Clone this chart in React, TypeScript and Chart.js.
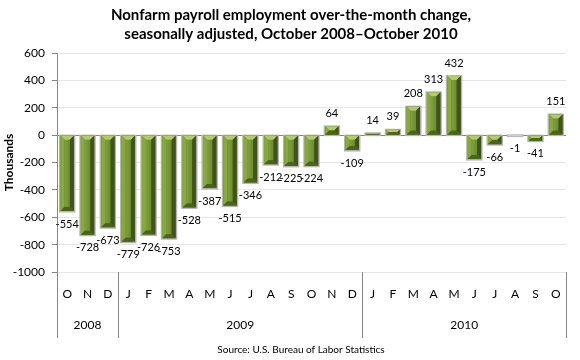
import React, { useEffect, useRef } from 'react';
import { Chart, registerables } from 'chart.js';

Chart.register(...registerables);

const months = ['O', 'N', 'D', 'J', 'F', 'M', 'A', 'M', 'J', 'J', 'A', 'S', 'O', 'N', 'D', 'J', 'F', 'M', 'A', 'M', 'J', 'J', 'A', 'S', 'O'];
const changes = [-554, -728, -673, -779, -726, -753, -528, -387, -515, -346, -212, -225, -224, 64, -109, 14, 39, 208, 313, 432, -175, -66, -1, -41, 151];
const years = ['2008', '2009', '2010'];
const yearSpans = [3, 12, 10];
const yMin = -1000;
const yMax = 600;
const yStep = 200;
const titleLines = ['Nonfarm payroll employment over-the-month change,', 'seasonally adjusted, October 2008\u2013October 2010'];
const yAxisTitle = 'Thousands';
const sourceText = 'Source: U.S. Bureau of Labor Statistics';

const FONT = 'Lato, "Liberation Sans", sans-serif';
const AXIS_GRAY = '#868686';

const bevelBars = {
  id: 'bevelBars',
  afterDatasetsDraw(chart: any) {
    const ctx = chart.ctx;
    const meta = chart.getDatasetMeta(0);
    ctx.save();
    meta.data.forEach((bar: any) => {
      const p = bar.getProps(['x', 'y', 'base', 'width'], true);
      const left = p.x - p.width / 2;
      const right = p.x + p.width / 2;
      const top = Math.min(p.y, p.base);
      const bottom = Math.max(p.y, p.base);
      const h = bottom - top;
      const w = right - left;
      // outline / shadow
      ctx.fillStyle = '#b4b4b4';
      ctx.fillRect(left - 1.5, top - 1, w + 3, h + 2.5);
      if (h < 1) {
        ctx.fillStyle = '#cfcfcf';
        ctx.fillRect(left, top - 1, w, 2);
        return;
      }
      ctx.fillStyle = '#56731f';
      ctx.fillRect(left, top, w, h);
      const b = Math.min(4, h / 2, w / 2);
      const poly = (pts: number[][], color: string) => {
        ctx.beginPath();
        ctx.moveTo(pts[0][0], pts[0][1]);
        for (let i = 1; i < pts.length; i++) ctx.lineTo(pts[i][0], pts[i][1]);
        ctx.closePath();
        ctx.fillStyle = color;
        ctx.fill();
      };
      // face
      const g = ctx.createLinearGradient(left, 0, right, 0);
      g.addColorStop(0, '#6f8f2c');
      g.addColorStop(0.35, '#7d9e38');
      g.addColorStop(1, '#5f7d24');
      ctx.fillStyle = g;
      ctx.fillRect(left + b, top + b, w - 2 * b, h - 2 * b);
      // bevels
      poly([[left, top], [right, top], [right - b, top + b], [left + b, top + b]], '#b3cb6e');
      poly([[left, top], [left + b, top + b], [left + b, bottom - b], [left, bottom]], '#88a843');
      poly([[right, top], [right, bottom], [right - b, bottom - b], [right - b, top + b]], '#3f5515');
      poly([[left, bottom], [left + b, bottom - b], [right - b, bottom - b], [right, bottom]], '#4a6419');
    });
    ctx.restore();
  },
};

const valueLabels = {
  id: 'valueLabels',
  afterDatasetsDraw(chart: any) {
    const ctx = chart.ctx;
    const meta = chart.getDatasetMeta(0);
    const data = chart.data.datasets[0].data as number[];
    ctx.save();
    ctx.font = '11px ' + FONT;
    ctx.fillStyle = '#000';
    ctx.textAlign = 'center';
    ctx.textBaseline = 'middle';
    meta.data.forEach((bar: any, i: number) => {
      const v = data[i];
      const y = v >= 0 ? Math.min(bar.y, bar.base) - 13 : Math.max(bar.y, bar.base) + 13;
      ctx.fillText(String(v), bar.x, y);
    });
    ctx.restore();
  },
};

const decorations = {
  id: 'decorations',
  afterDraw(chart: any) {
    const ctx = chart.ctx;
    const xs = chart.scales.x;
    const area = chart.chartArea;
    const half = (xs.getPixelForValue(1) - xs.getPixelForValue(0)) / 2;
    const lineBottom = 338;
    ctx.save();
    // title
    ctx.fillStyle = '#000';
    ctx.font = 'bold 15px ' + FONT;
    ctx.textAlign = 'center';
    ctx.textBaseline = 'middle';
    titleLines.forEach((t, i) => ctx.fillText(t, 291, 15 + i * 19));
    // year group separators and labels
    ctx.strokeStyle = AXIS_GRAY;
    ctx.lineWidth = 1;
    let idx = 0;
    const boundaries: number[] = [0];
    years.forEach((yr, k) => {
      const start = xs.getPixelForValue(idx) - half;
      const end = xs.getPixelForValue(idx + yearSpans[k] - 1) + half;
      ctx.font = '12px ' + FONT;
      ctx.fillStyle = '#000';
      ctx.fillText(yr, (start + end) / 2, 325);
      idx += yearSpans[k];
      boundaries.push(idx);
    });
    boundaries.forEach((bi) => {
      const px = Math.round(xs.getPixelForValue(bi) - half) + 0.5;
      ctx.beginPath();
      ctx.moveTo(px, area.bottom);
      ctx.lineTo(px, lineBottom);
      ctx.stroke();
    });
    // source
    ctx.font = '10px ' + FONT;
    ctx.fillStyle = '#000';
    ctx.fillText(sourceText, 301, 350);
    ctx.restore();
  },
};

export default function App() {
  const ref = useRef<HTMLCanvasElement | null>(null);
  useEffect(() => {
    if (!ref.current) return;
    const chart = new Chart(ref.current, {
      type: 'bar',
      data: {
        labels: months,
        datasets: [
          {
            data: changes,
            backgroundColor: 'rgba(0,0,0,0)',
            borderWidth: 0,
            barPercentage: 0.66,
            categoryPercentage: 1,
          },
        ],
      },
      options: {
        responsive: false,
        animation: false,
        layout: { padding: { top: 53, left: 0, right: 14, bottom: 0 } },
        plugins: {
          legend: { display: false },
          title: { display: false },
          tooltip: { enabled: false },
        },
        scales: {
          x: {
            grid: { display: false, drawTicks: false },
            border: { display: false },
            ticks: {
              autoSkip: false,
              maxRotation: 0,
              padding: 15,
              color: '#000',
              font: { family: FONT, size: 12 },
            },
            afterFit: (s: any) => {
              s.height = 88;
            },
          },
          y: {
            min: yMin,
            max: yMax,
            ticks: {
              stepSize: yStep,
              padding: 7,
              color: '#000',
              font: { family: FONT, size: 12 },
              callback: (v: any) => String(v),
            },
            grid: {
              color: (c: any) => (c.tick && c.tick.value === 0 ? AXIS_GRAY : '#e6e6e6'),
              tickColor: AXIS_GRAY,
              tickLength: 5,
            },
            border: { display: true, color: AXIS_GRAY },
            title: {
              display: true,
              text: yAxisTitle,
              color: '#000',
              font: { family: FONT, size: 12, weight: 'bold' },
              padding: { top: 2, bottom: 0 },
            },
            afterFit: (s: any) => {
              s.width = 57;
            },
          },
        },
      },
      plugins: [bevelBars, valueLabels, decorations],
    });
    return () => chart.destroy();
  }, []);
  return (
    <div style={{ position: 'fixed', left: 0, top: 0, width: 580, height: 360, background: '#fff' }}>
      <canvas ref={ref} width={580} height={360} />
    </div>
  );
}
